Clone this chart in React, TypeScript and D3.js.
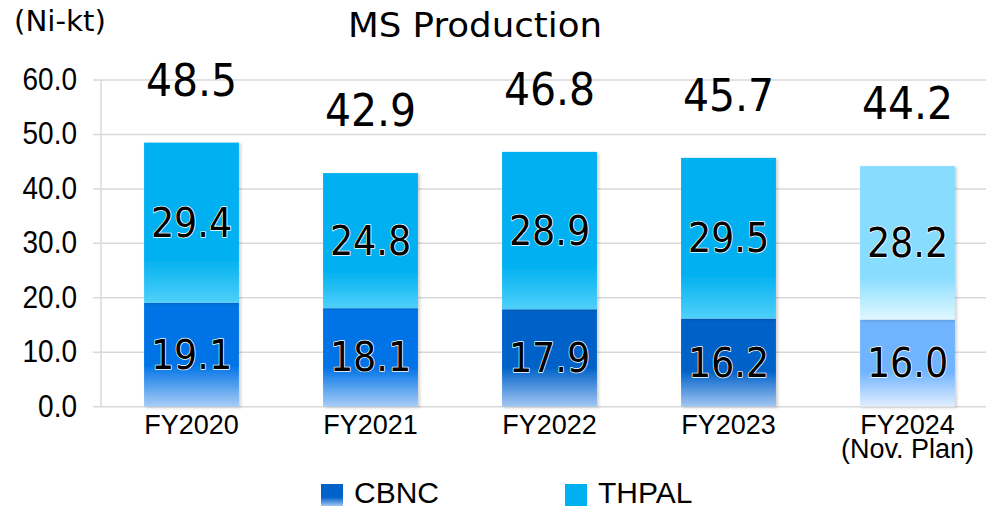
import React from "react";
import * as d3 from "d3";

const categories = ["FY2020", "FY2021", "FY2022", "FY2023", "FY2024"];
const categoryNotes = ["", "", "", "", "(Nov. Plan)"];
const cbnc = [19.1, 18.1, 17.9, 16.2, 16.0];
const thpal = [29.4, 24.8, 28.9, 29.5, 28.2];
const totals = [48.5, 42.9, 46.8, 45.7, 44.2];
const yTicks = [0, 10, 20, 30, 40, 50, 60];
const seriesNames = ["CBNC", "THPAL"];

// colours per bar: [solid, faded bottom]
const cbncColors = [
  ["#0073E6", "#A8CDF7"],
  ["#0073E6", "#A8CDF7"],
  ["#0062C9", "#A3C6F2"],
  ["#0062C9", "#A3C6F2"],
  ["#70B4FF", "#E2EEFF"],
];
const thpalColors = [
  ["#00B0F0", "#4FD0FA"],
  ["#00B0F0", "#4FD0FA"],
  ["#00B0F0", "#4FD0FA"],
  ["#00B0F0", "#4FD0FA"],
  ["#88DDFF", "#E0F7FF"],
];

const W = 986;
const H = 509;
const SANS = "'Liberation Sans', Arial, sans-serif";
const VERD = "'DejaVu Sans', Verdana, sans-serif";

const App = () => {
  const y = d3.scaleLinear().domain([0, 60]).range([406.7, 80]);
  const x = d3
    .scaleBand<string>()
    .domain(categories)
    .range([102, 997])
    .paddingInner(0.47)
    .paddingOuter(0.235);

  const rows = categories.map((c, i) => ({
    cat: c,
    i,
    stack: [
      { key: "cbnc", y0: 0, y1: cbnc[i], v: cbnc[i], col: cbncColors[i], mid: 0.6 },
      {
        key: "thpal",
        y0: cbnc[i],
        y1: cbnc[i] + thpal[i],
        v: thpal[i],
        col: thpalColors[i],
        mid: 0.72,
      },
    ],
  }));

  const halo = {
    stroke: "#fff",
    strokeWidth: 1.4,
    paintOrder: "stroke" as const,
    strokeLinejoin: "round" as const,
  };

  return (
    <svg width={W} height={H} style={{ position: "absolute", left: 0, top: 0, background: "#fff" }}>
      <defs>
        {rows.map((r) =>
          r.stack.map((s) => (
            <linearGradient key={s.key + r.i} id={`g-${s.key}-${r.i}`} x1="0" y1="0" x2="0" y2="1">
              <stop offset="0" stopColor={s.col[0]} />
              <stop offset={s.mid} stopColor={s.col[0]} />
              <stop offset="1" stopColor={s.col[1]} />
            </linearGradient>
          ))
        )}
        <linearGradient id="leg-cbnc" x1="0" y1="0" x2="0" y2="1">
          <stop offset="0" stopColor="#0062C9" />
          <stop offset="0.6" stopColor="#0062C9" />
          <stop offset="1" stopColor="#A3C6F2" />
        </linearGradient>
        <filter id="shadow" x="-10%" y="-10%" width="130%" height="130%">
          <feDropShadow dx="2" dy="1" stdDeviation="1.5" floodColor="#000" floodOpacity="0.18" />
        </filter>
      </defs>

      {/* title and unit */}
      <text x={475} y={37} textAnchor="middle" fontFamily={VERD} fontSize={33} textLength={254} lengthAdjust="spacingAndGlyphs" fill="#000">
        MS Production
      </text>
      <text
        transform="translate(14,31) scale(1,1.12)"
        fontFamily={VERD}
        fontSize={26}
        textLength={92}
        lengthAdjust="spacingAndGlyphs"
        fill="#000"
      >
        (Ni-kt)
      </text>

      {/* grid */}
      {yTicks.map((t) => (
        <g key={t}>
          <line x1={93} x2={W} y1={y(t)} y2={y(t)} stroke="#d9d9d9" strokeWidth={1.5} />
          <text
            transform={`translate(77,${y(t) + 10}) scale(1,1.1)`}
            textAnchor="end"
            fontFamily={SANS}
            fontSize={28}
            fill="#000"
          >
            {d3.format(".1f")(t)}
          </text>
        </g>
      ))}
      <line x1={101} x2={101} y1={y(60)} y2={y(0)} stroke="#d9d9d9" strokeWidth={1.5} />

      {/* bars */}
      {rows.map((r) => (
        <g key={r.cat}>
          {r.stack.map((s) => (
            <rect
              key={s.key}
              x={x(r.cat)}
              y={y(s.y1)}
              width={x.bandwidth()}
              height={y(s.y0) - y(s.y1)}
              fill={`url(#g-${s.key}-${r.i})`}
              filter="url(#shadow)"
            />
          ))}
        </g>
      ))}

      {/* segment labels */}
      {rows.map((r) =>
        r.stack.map((s) => {
          const cx = (x(r.cat) as number) + x.bandwidth() / 2;
          const cy = (y(s.y0) + y(s.y1)) / 2;
          return (
            <text
              key={r.cat + s.key}
              transform={`translate(${cx},${cy + 14}) scale(1,1.1)`}
              textAnchor="middle"
              fontFamily={VERD}
              fontSize={36.5}
              fill="#000"
              {...halo}
            >
              {d3.format(".1f")(s.v)}
            </text>
          );
        })
      )}

      {/* totals */}
      {rows.map((r) => {
        const cx = (x(r.cat) as number) + x.bandwidth() / 2;
        return (
          <text
            key={"t" + r.cat}
            transform={`translate(${cx},${y(totals[r.i]) - 47}) scale(1,1.08)`}
            textAnchor="middle"
            fontFamily={VERD}
            fontSize={41}
            fill="#000"
          >
            {d3.format(".1f")(totals[r.i])}
          </text>
        );
      })}

      {/* category labels */}
      {categories.map((c, i) => {
        const cx = (x(c) as number) + x.bandwidth() / 2;
        return (
          <text key={"c" + c} textAnchor="middle" fontFamily={SANS} fontSize={27} fill="#000">
            <tspan x={cx} y={434}>
              {c}
            </tspan>
            {categoryNotes[i] && (
              <tspan x={cx} y={458}>
                {categoryNotes[i]}
              </tspan>
            )}
          </text>
        );
      })}

      {/* legend */}
      {seriesNames.map((n, i) => {
        const lx = [321, 565][i];
        return (
          <g key={n}>
            <rect x={lx} y={484} width={22} height={22} fill={i === 0 ? "url(#leg-cbnc)" : "#00B0F0"} />
            <text x={lx + 33} y={503} fontFamily={SANS} fontSize={30} fill="#000">
              {n}
            </text>
          </g>
        );
      })}
    </svg>
  );
};

export default App;
